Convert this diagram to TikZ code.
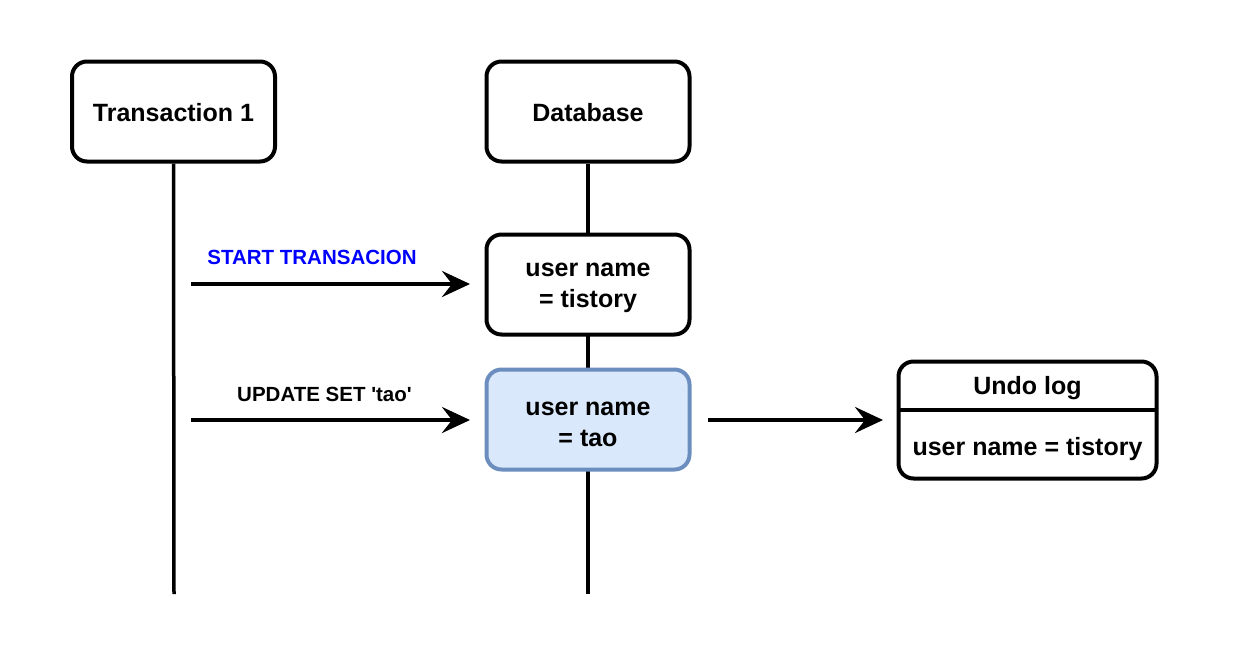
\documentclass[tikz,border=0pt]{standalone}
\usepackage{fontspec}
\setmainfont{Liberation Sans}
\usetikzlibrary{arrows.meta,backgrounds}
\definecolor{bluefill}{HTML}{DAE8FC}
\definecolor{blueline}{HTML}{6C8EBF}
\definecolor{labelblue}{HTML}{0000FF}
\begin{document}
\begin{tikzpicture}[x=1pt,y=-1pt,
  box/.style={draw=black,line width=4pt,rounded corners=15pt,fill=white,minimum width=203pt,minimum height=100pt,inner sep=0pt,align=center},
  boxtext/.style={align=center,inner sep=0pt,font=\fontsize{25}{31}\selectfont\bfseries},
  life/.style={line width=3.5pt},
  msg/.style={line width=4pt,-{Stealth[length=28pt,width=26pt,inset=10pt]}},
  lbl/.style={font=\fontsize{20.5}{24}\selectfont\bfseries}]
\useasboundingbox (0,0) rectangle (1238,654);
\node[box] (t1) at (173.5,111.5) {};
\node[boxtext] (t1t) at (173.5,113) {Transaction 1};
\node[box] (db) at (588,111.5) {};
\node[boxtext] (dbt) at (588,113) {Database};
\node[box] (v1) at (588,284.5) {};
\node[boxtext] (v1t) at (588,288) {user name\\= tistory};
\node[box,fill=bluefill,draw=blueline] (v2) at (588,419.5) {};
\node[boxtext] (v2t) at (588,424) {user name\\= tao};
\node[box,minimum width=258pt,minimum height=117pt] (undo) at (1027.5,420) {};
\node[boxtext] (undot) at (1027.5,388) {Undo log};
\node[boxtext] (undob) at (1027.5,449) {user name = tistory};
\coordinate (t1end) at (174,594);
\coordinate (dbend) at (588,594);
\coordinate (a1s) at (191,284);
\coordinate (a1e) at (470,284);
\coordinate (a2s) at (191,420);
\coordinate (a2e) at (470,420);
\coordinate (a3s) at (708,420);
\coordinate (a3e) at (883,420);
\coordinate (dl) at (899,410);
\coordinate (dr) at (1156,410);
\begin{scope}[on background layer]
\draw[life] (t1.south) -- (t1end);
\draw[life] (db.south) -- (dbend);
\end{scope}
\draw[line width=3.5pt] (dl) -- (dr);
\draw[msg] (a1s) -- (a1e);
\draw[msg] (a2s) -- (a2e);
\draw[msg] (a3s) -- (a3e);
\node[lbl,text=labelblue] (l1) at (312,257) {START TRANSACION};
\node[lbl] (l2) at (324.5,394) {UPDATE SET \textquotesingle tao\textquotesingle};
\end{tikzpicture}
\end{document}
